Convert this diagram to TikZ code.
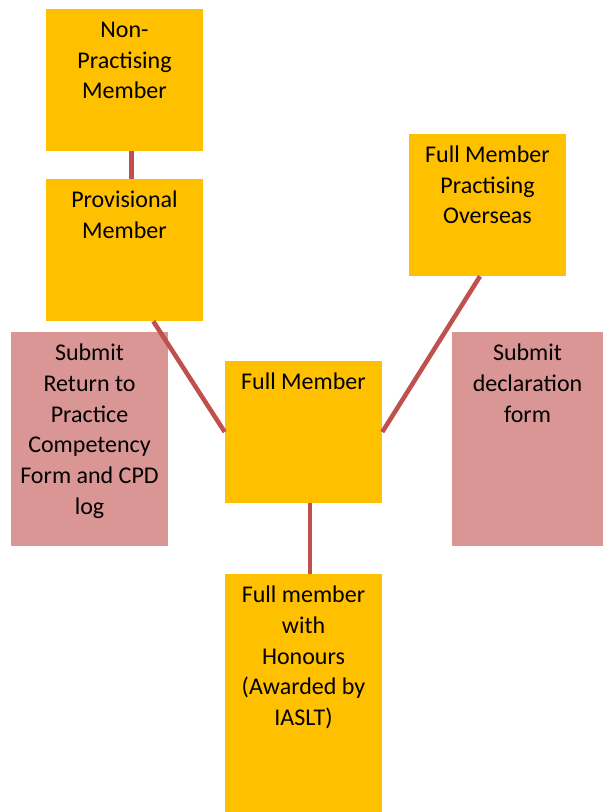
\documentclass[tikz,border=0pt]{standalone}
\usepackage{fontspec}
\setmainfont{Carlito}
\definecolor{boxorange}{RGB}{255,192,0}
\definecolor{boxpink}{RGB}{217,150,148}
\definecolor{linkred}{RGB}{192,80,77}

\begin{document}
\begin{tikzpicture}[
        x=0.75pt, y=-0.75pt,
        orangebox/.style={rectangle, fill=boxorange, minimum width=117.75pt, minimum height=106.5pt, inner sep=0},
        pinkbox/.style={rectangle, fill=boxpink, minimum width=117.75pt, minimum height=160.5pt, inner sep=0},
        boxtext/.style={anchor=north, align=center, inner sep=0, font=\fontsize{18}{23}\selectfont},
        link/.style={draw=linkred, line width=3.4pt}
    ]
    \useasboundingbox (0,0) rectangle (603,812);

    % Boxes
    \node[orangebox] (npm) at (124.5,80) {};
    \node[orangebox] (prov) at (124.5,250) {};
    \node[orangebox] (ovs) at (487.5,205) {};
    \node[pinkbox] (ret) at (89.5,439) {};
    \node[pinkbox, minimum width=113.25pt] (decl) at (527.5,439) {};
    \node[orangebox] (full) at (303.5,432) {};
    \node[orangebox, minimum height=178.5pt] (hon) at (303.5,693) {};

    % Links
    \draw[link] ([xshift=5.25pt]npm.south) -- ([xshift=5.25pt]prov.north);
    \draw[link] (prov.-68.7) -- (full.west);
    \draw[link] (ovs.-96) -- (full.east);
    \draw[link] ([xshift=4.9pt]full.south) -- ([xshift=4.9pt]hon.north);

    % Texts
    \node[boxtext] (npmtext) at ([yshift=-5.4pt]npm.north) {\strut Non-\\Practising\\Member};
    \node[boxtext] (provtext) at ([yshift=-5.4pt]prov.north) {\strut Provisional\\Member};
    \node[boxtext] (ovstext) at ([yshift=-5.4pt]ovs.north) {\strut Full Member\\Practising\\Overseas};
    \node[boxtext] (rettext) at ([yshift=-5.4pt]ret.north) {\strut Submit\\Return to\\Practice\\Competency\\Form and CPD\\log};
    \node[boxtext] (decltext) at ([yshift=-5.4pt]decl.north) {\strut Submit\\declaration\\form};
    \node[boxtext] (fulltext) at ([yshift=-5.4pt]full.north) {\strut Full Member};
    \node[boxtext] (hontext) at ([yshift=-5.4pt]hon.north) {\strut Full member\\with\\Honours\\(Awarded by\\IASLT)};
\end{tikzpicture}
\end{document}
